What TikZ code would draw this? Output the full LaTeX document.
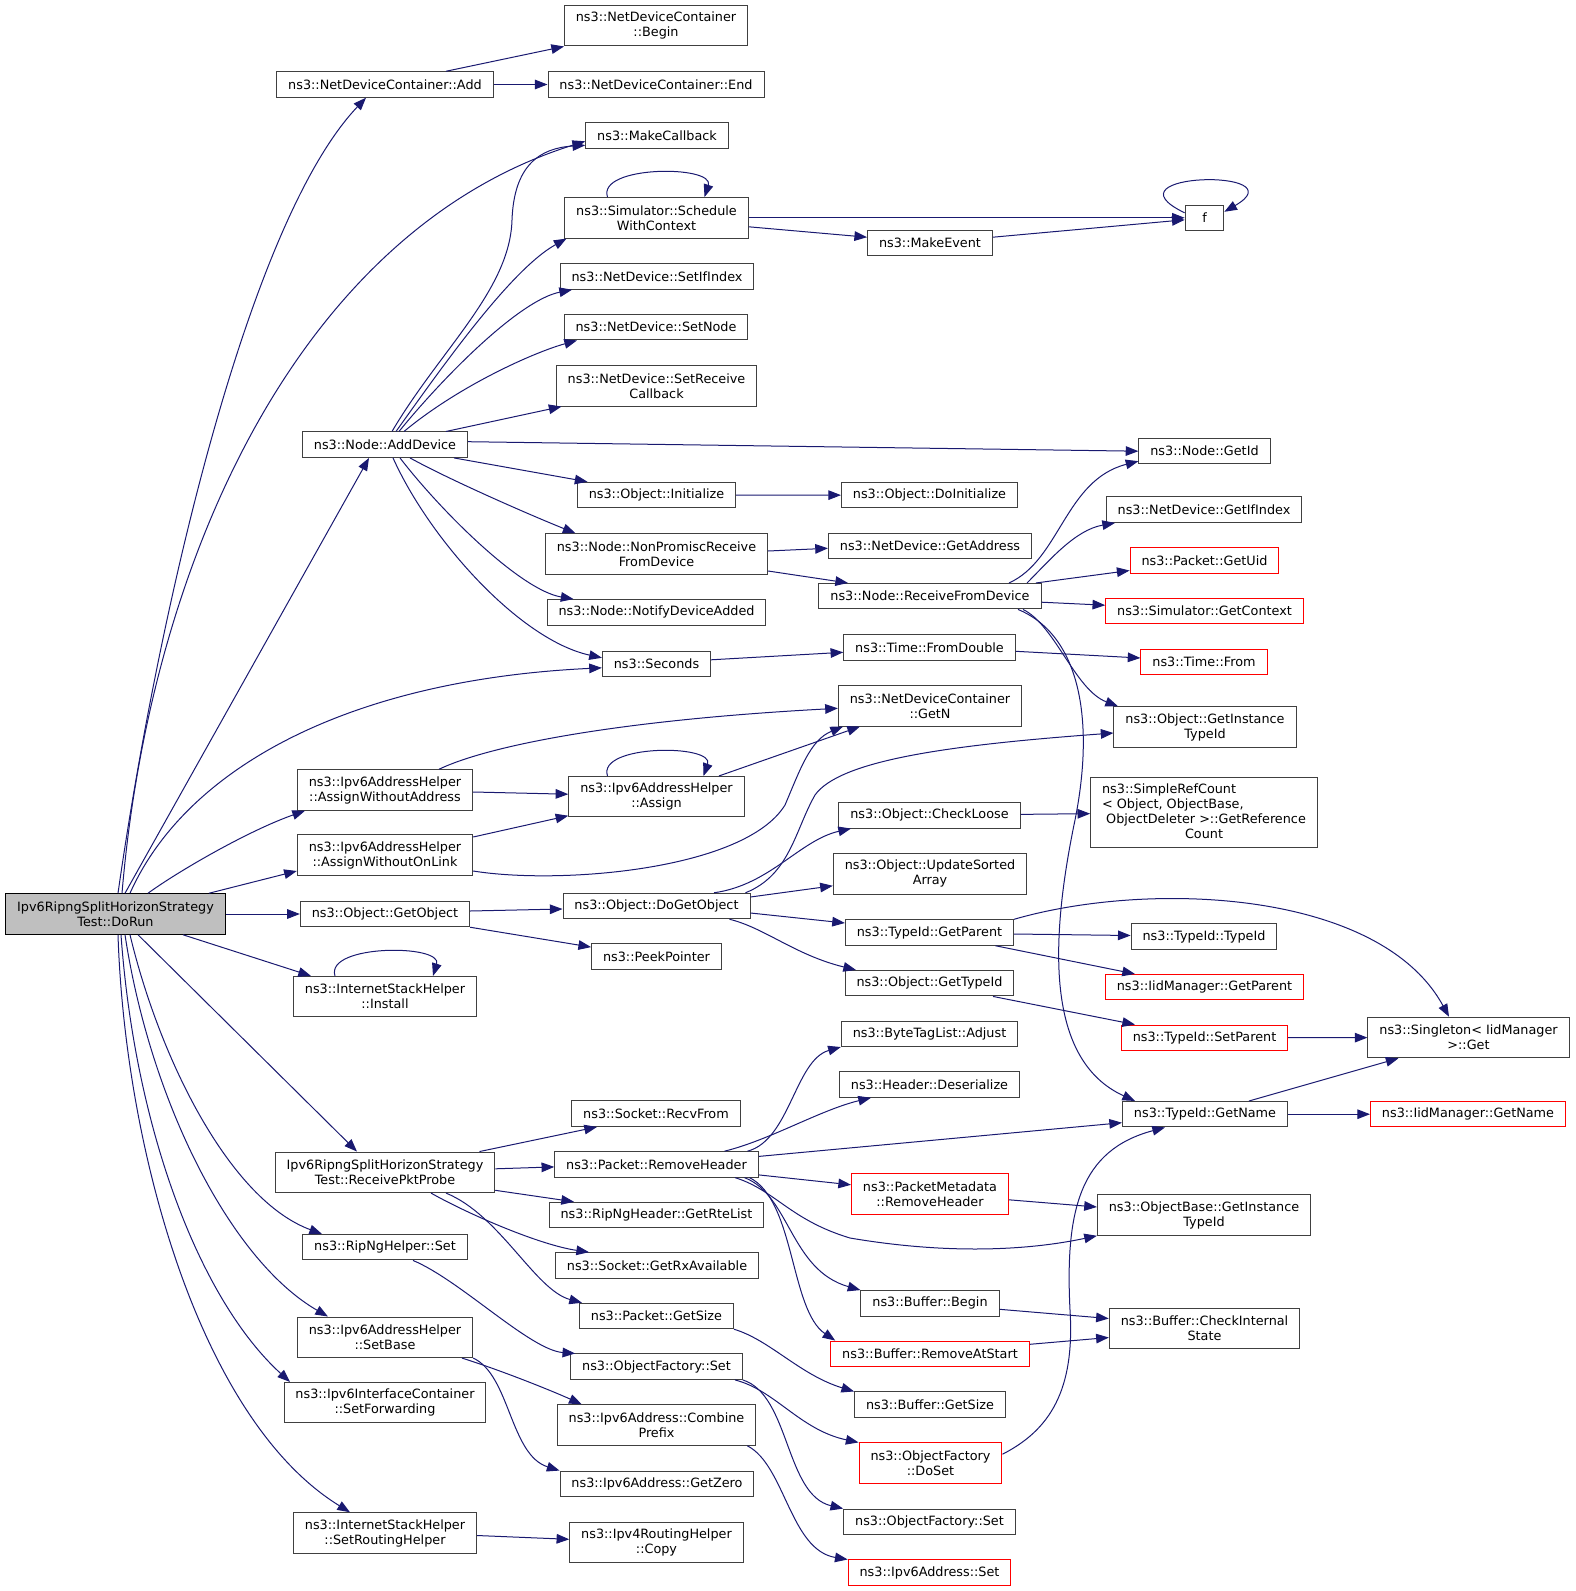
\documentclass[tikz,border=0pt]{standalone}
\usepackage{fontspec}
\newfontfamily\graphfont{DejaVu Sans}
\usetikzlibrary{arrows.meta}
\definecolor{edgeblue}{HTML}{191970}
\definecolor{rootgray}{HTML}{BFBFBF}
\definecolor{truncred}{HTML}{FF0000}

\begin{document}
\begin{tikzpicture}[x=0.75pt,y=-0.75pt,
  func/.style={draw=black!75,line width=0.75pt,font=\graphfont\fontsize{9.6}{11.25}\selectfont,inner xsep=8.6pt,inner ysep=2pt,minimum height=19.1pt,align=center},
  two/.style={minimum height=30.4pt},
  trunc/.style={func,draw=truncred},
  root/.style={func,two,draw=black,fill=rootgray},
  call/.style={draw=edgeblue,line width=0.75pt,-{Triangle[length=9.5pt,width=7.2pt]}}]
\useasboundingbox (0,0) rectangle (1575,1591);
\node[func,two] (ndcBegin) at (656,25.7) {ns3::NetDeviceContainer\\::Begin};
\node[func] (ndcAdd) at (385,84.5) {ns3::NetDeviceContainer::Add};
\node[func] (ndcEnd) at (656,84.5) {ns3::NetDeviceContainer::End};
\node[func] (mkCallback) at (657,135.3) {ns3::MakeCallback};
\node[func,two] (schedCtx) at (656.5,217.8) {ns3::Simulator::Schedule\\WithContext};
\node[func,minimum width=29pt] (fFun) at (1204.5,217.8) {f};
\node[func] (mkEvent) at (930,243.2) {ns3::MakeEvent};
\node[func] (setIfIndex) at (657,276.5) {ns3::NetDevice::SetIfIndex};
\node[func] (setNode) at (656,327.2) {ns3::NetDevice::SetNode};
\node[func,two] (setRecvCb) at (656.5,385.8) {ns3::NetDevice::SetReceive\\Callback};
\node[func] (addDevice) at (385,444.7) {ns3::Node::AddDevice};
\node[func] (getId) at (1204.5,451.2) {ns3::Node::GetId};
\node[func] (objInit) at (656.5,495) {ns3::Object::Initialize};
\node[func] (doInit) at (929.5,495.2) {ns3::Object::DoInitialize};
\node[func] (getIfIndex) at (1204,509.7) {ns3::NetDevice::GetIfIndex};
\node[func,two] (nonPromisc) at (656.5,554) {ns3::Node::NonPromiscReceive\\FromDevice};
\node[func] (getAddress) at (930,545.8) {ns3::NetDevice::GetAddress};
\node[trunc] (getUid) at (1204.5,560.5) {ns3::Packet::GetUid};
\node[func] (recvFromDev) at (930,596.2) {ns3::Node::ReceiveFromDevice};
\node[func] (notifyAdded) at (656.5,612.3) {ns3::Node::NotifyDeviceAdded};
\node[trunc] (getContext) at (1204.5,611.2) {ns3::Simulator::GetContext};
\node[func] (seconds) at (656.5,663.8) {ns3::Seconds};
\node[func] (fromDouble) at (929.5,647.3) {ns3::Time::FromDouble};
\node[trunc] (timeFrom) at (1204,662) {ns3::Time::From};
\node[func,two] (getN) at (930,705.8) {ns3::NetDeviceContainer\\::GetN};
\node[func,two] (objGetInst) at (1205,727) {ns3::Object::GetInstance\\TypeId};
\node[func,two] (assignWoAddr) at (385,790) {ns3::Ipv6AddressHelper\\::AssignWithoutAddress};
\node[func,two] (assign) at (656.5,796.7) {ns3::Ipv6AddressHelper\\::Assign};
\node[func,minimum height=52.5pt] (refCount) at (1204,812.5) {\begin{tabular}{@{}l@{}}ns3::SimpleRefCount\\< Object, ObjectBase,\\\ ObjectDeleter >::GetReference\\\multicolumn{1}{@{}c@{}}{Count}\end{tabular}};
\node[func] (checkLoose) at (929.5,815.3) {ns3::Object::CheckLoose};
\node[func,two] (assignWoLink) at (385,855) {ns3::Ipv6AddressHelper\\::AssignWithoutOnLink};
\node[func,two] (updSorted) at (930,873.8) {ns3::Object::UpdateSorted\\Array};
\node[root] (doRun) at (115.5,914) {Ipv6RipngSplitHorizonStrategy\\Test::DoRun};
\node[func] (getObject) at (385,914) {ns3::Object::GetObject};
\node[func] (doGetObject) at (656.5,906) {ns3::Object::DoGetObject};
\node[func] (tidGetParent) at (929.5,932.5) {ns3::TypeId::GetParent};
\node[func] (tidTypeId) at (1204,936.5) {ns3::TypeId::TypeId};
\node[func] (peekPtr) at (656.5,956.6) {ns3::PeekPointer};
\node[func,two] (install) at (385,996.7) {ns3::InternetStackHelper\\::Install};
\node[func] (getTypeId) at (929.5,983.2) {ns3::Object::GetTypeId};
\node[trunc] (iidGetParent) at (1204.5,987.2) {ns3::IidManager::GetParent};
\node[func] (adjust) at (929.5,1033.8) {ns3::ByteTagList::Adjust};
\node[func,two] (singleton) at (1468.5,1037.5) {ns3::Singleton< IidManager\\ >::Get};
\node[trunc] (setParent) at (1204.5,1037.8) {ns3::TypeId::SetParent};
\node[func] (deserialize) at (929.5,1084.5) {ns3::Header::Deserialize};
\node[func] (recvFrom) at (656,1113.7) {ns3::Socket::RecvFrom};
\node[func] (tidGetName) at (1205,1114.2) {ns3::TypeId::GetName};
\node[trunc] (iidGetName) at (1468,1114.2) {ns3::IidManager::GetName};
\node[func,two] (rcvProbe) at (385,1172.3) {Ipv6RipngSplitHorizonStrategy\\Test::ReceivePktProbe};
\node[func] (removeHdr) at (656.5,1164.4) {ns3::Packet::RemoveHeader};
\node[trunc,two] (metaRemove) at (930,1193.8) {ns3::PacketMetadata\\::RemoveHeader};
\node[func] (getRteList) at (656.5,1215) {ns3::RipNgHeader::GetRteList};
\node[func,two] (baseGetInst) at (1204,1215) {ns3::ObjectBase::GetInstance\\TypeId};
\node[func] (ripSet) at (385,1247.2) {ns3::RipNgHelper::Set};
\node[func] (getRxAvail) at (657,1265.4) {ns3::Socket::GetRxAvailable};
\node[func] (bufBegin) at (930,1303.3) {ns3::Buffer::Begin};
\node[func] (pktGetSize) at (656.5,1316) {ns3::Packet::GetSize};
\node[func,two] (checkInternal) at (1204.5,1328.5) {ns3::Buffer::CheckInternal\\State};
\node[func,two] (setBase) at (385,1337.3) {ns3::Ipv6AddressHelper\\::SetBase};
\node[trunc] (removeAtStart) at (930,1353.8) {ns3::Buffer::RemoveAtStart};
\node[func] (factSet) at (656.5,1366.7) {ns3::ObjectFactory::Set};
\node[func] (bufGetSize) at (930,1404.7) {ns3::Buffer::GetSize};
\node[func,two] (setFwd) at (385,1402.7) {ns3::Ipv6InterfaceContainer\\::SetForwarding};
\node[func,two] (combinePrefix) at (656.5,1425) {ns3::Ipv6Address::Combine\\Prefix};
\node[trunc,two] (doSet) at (930.5,1463.2) {ns3::ObjectFactory\\::DoSet};
\node[func] (getZero) at (657,1483.8) {ns3::Ipv6Address::GetZero};
\node[func] (factSetB) at (929.5,1521.8) {ns3::ObjectFactory::Set};
\node[func,two] (setRouting) at (385,1533) {ns3::InternetStackHelper\\::SetRoutingHelper};
\node[func,two] (copyHelper) at (656.5,1542.3) {ns3::Ipv4RoutingHelper\\::Copy};
\node[trunc] (addrSet) at (929.5,1572.7) {ns3::Ipv6Address::Set};

\draw[call] ([shift={(2.5,0)}]doRun.north) .. controls (160,600) and (250,220) .. ([shift={(-19,0)}]ndcAdd.south);
\draw[call] ([shift={(6.5,0)}]doRun.north) .. controls (150,560) and (300,230) .. ([shift={(0,6)}]mkCallback.west);
\draw[call] ([shift={(9.5,0)}]doRun.north) -- ([shift={(-16,0)}]addDevice.south);
\draw[call] ([shift={(14.5,0)}]doRun.north) .. controls (185,770) and (345,680) .. ([shift={(0,4)}]seconds.west);
\draw[call] ([shift={(32.5,0)}]doRun.north) .. controls (180,870) and (250,830) .. ([shift={(-80,0)}]assignWoAddr.south);
\draw[call] ([shift={(93.5,0)}]doRun.north) -- ([shift={(0,16)}]assignWoLink.west);
\draw[call] (doRun) -- (getObject);
\draw[call] ([shift={(67.5,0)}]doRun.south) -- ([shift={(-74,0)}]install.north);
\draw[call] ([shift={(22.5,0)}]doRun.south) -- ([shift={(-28,0)}]rcvProbe.north);
\draw[call] ([shift={(14.5,0)}]doRun.south) .. controls (160,1060) and (230,1200) .. ([shift={(-63,0)}]ripSet.north);
\draw[call] ([shift={(9.5,0)}]doRun.south) .. controls (150,1100) and (230,1260) .. ([shift={(-57,0)}]setBase.north);
\draw[call] ([shift={(5.5,0)}]doRun.south) .. controls (135,1130) and (200,1300) .. ([shift={(-95,0)}]setFwd.north);
\draw[call] ([shift={(2.5,0)}]doRun.south) .. controls (125,1150) and (200,1420) .. ([shift={(-35,0)}]setRouting.north);
\draw[call] ([shift={(61,0)}]ndcAdd.north) -- ([shift={(-92,0)}]ndcBegin.south);
\draw[call] (ndcAdd) -- (ndcEnd);
\draw[call] ([shift={(7,0)}]addDevice.north) .. controls (440,350) and (510,290) .. (512,220) .. controls (514,165) and (540,148) .. ([shift={(0,10)}]mkCallback.west);
\draw[call] ([shift={(11,0)}]addDevice.north) .. controls (440,370) and (510,270) .. ([shift={(-90,0)}]schedCtx.south);
\draw[call] ([shift={(14,0)}]addDevice.north) .. controls (445,375) and (520,300) .. ([shift={(-85,0)}]setIfIndex.south);
\draw[call] ([shift={(19,0)}]addDevice.north) .. controls (460,385) and (535,352) .. ([shift={(-79,0)}]setNode.south);
\draw[call] ([shift={(61,0)}]addDevice.north) -- ([shift={(-95,0)}]setRecvCb.south);
\draw[call] ([shift={(0,-3)}]addDevice.east) -- (getId.west);
\draw[call] ([shift={(69,0)}]addDevice.south) -- ([shift={(-69,0)}]objInit.north);
\draw[call] ([shift={(25,0)}]addDevice.south) .. controls (450,480) and (530,515) .. ([shift={(-81,0)}]nonPromisc.north);
\draw[call] ([shift={(15,0)}]addDevice.south) .. controls (440,510) and (520,590) .. ([shift={(-83,0)}]notifyAdded.north);
\draw[call] ([shift={(8,0)}]addDevice.south) .. controls (430,540) and (520,640) .. ([shift={(0,-6)}]seconds.west);
\draw[call] ([shift={(-49,0)}]schedCtx.north) .. controls (597,165) and (715,165) .. ([shift={(48,0)}]schedCtx.north);
\draw[call] (schedCtx) -- (fFun);
\draw[call] ([shift={(0,9)}]schedCtx.east) -- ([shift={(0,-6)}]mkEvent.west);
\draw[call] ([shift={(0,-6)}]mkEvent.east) -- ([shift={(0,2)}]fFun.west);
\draw[call] ([shift={(0,-5)}]fFun.west) .. controls (1100,172) and (1300,168) .. ([shift={(0,-6)}]fFun.east);
\draw[call] (objInit) -- (doInit);
\draw[call] ([shift={(0,-3)}]nonPromisc.east) -- ([shift={(0,2.5)}]getAddress.west);
\draw[call] ([shift={(0,17)}]nonPromisc.east) -- ([shift={(-82,0)}]recvFromDev.north);
\draw[call] ([shift={(79,0)}]recvFromDev.north) .. controls (1060,560) and (1065,480) .. ([shift={(0,10)}]getId.west);
\draw[call] ([shift={(97,0)}]recvFromDev.north) .. controls (1050,560) and (1075,530) .. ([shift={(-89,0)}]getIfIndex.south);
\draw[call] ([shift={(106,0)}]recvFromDev.north) -- ([shift={(0,10)}]getUid.west);
\draw[call] ([shift={(0,6)}]recvFromDev.east) -- ([shift={(0,-6)}]getContext.west);
\draw[call] ([shift={(93,0)}]recvFromDev.south) .. controls (1055,625) and (1075,690) .. ([shift={(-87,0)}]objGetInst.north);
\draw[call] ([shift={(88,0)}]recvFromDev.south) .. controls (1080,635) and (1095,720) .. (1075,820) .. controls (1050,940) and (1045,1060) .. ([shift={(-70,0)}]tidGetName.north);
\draw[call] ([shift={(0,-4)}]seconds.east) -- ([shift={(0,5)}]fromDouble.west);
\draw[call] ([shift={(0,4)}]fromDouble.east) -- ([shift={(0,-4)}]timeFrom.west);
\draw[call] ([shift={(54,0)}]assignWoAddr.north) .. controls (490,745) and (620,720) .. ([shift={(0,2.5)}]getN.west);
\draw[call] ([shift={(0,2)}]assignWoAddr.east) -- ([shift={(0,-2.5)}]assign.west);
\draw[call] ([shift={(-49,0)}]assign.north) .. controls (597,744) and (715,744) .. ([shift={(47,0)}]assign.north);
\draw[call] ([shift={(62.5,0)}]assign.north) -- ([shift={(-70,0)}]getN.south);
\draw[call] ([shift={(0,-18)}]assignWoLink.east) -- ([shift={(0,19)}]assign.west);
\draw[call] ([shift={(0,16)}]assignWoLink.east) .. controls (560,885) and (745,870) .. (785,805) .. controls (800,770) and (810,740) .. ([shift={(-87,0)}]getN.south);
\draw[call] ([shift={(0,-3)}]getObject.east) -- ([shift={(0,3)}]doGetObject.west);
\draw[call] (getObject.south east) -- ([shift={(0,-9.5)}]peekPtr.west);
\draw[call] ([shift={(-5,0)}]doGetObject.north east) .. controls (790,875) and (795,830) .. (815,795) .. controls (840,760) and (950,745) .. ([shift={(0,6)}]objGetInst.west);
\draw[call] ([shift={(57.5,0)}]doGetObject.north) .. controls (770,885) and (800,840) .. ([shift={(-78.5,0)}]checkLoose.south);
\draw[call] ([shift={(0,-9)}]doGetObject.east) -- ([shift={(0,12)}]updSorted.west);
\draw[call] ([shift={(0,7)}]doGetObject.east) -- ([shift={(0,-9.5)}]tidGetParent.west);
\draw[call] ([shift={(73,0)}]doGetObject.south) .. controls (765,928) and (795,955) .. ([shift={(-73.5,0)}]getTypeId.north);
\draw[call] (checkLoose) -- (refCount);
\draw[call] ([shift={(0,1.5)}]tidGetParent.east) -- ([shift={(0,-1)}]tidTypeId.west);
\draw[call] ([shift={(66,0)}]tidGetParent.south) -- ([shift={(-69.5,0)}]iidGetParent.north);
\draw[call] (tidGetParent.north east) .. controls (1150,880) and (1380,890) .. ([shift={(-19.5,0)}]singleton.north);
\draw[call] ([shift={(63.5,0)}]getTypeId.south) -- ([shift={(-69.5,0)}]setParent.north);
\draw[call] (setParent) -- (singleton);
\draw[call] ([shift={(44,0)}]tidGetName.north) -- ([shift={(-70,0)}]singleton.south);
\draw[call] (tidGetName) -- (iidGetName);
\draw[call] ([shift={(94.5,0)}]rcvProbe.north) -- ([shift={(-59,0)}]recvFrom.south);
\draw[call] ([shift={(0,-3.5)}]rcvProbe.east) -- ([shift={(0,2.5)}]removeHdr.west);
\draw[call] ([shift={(0,18)}]rcvProbe.east) -- ([shift={(-82.5,0)}]getRteList.north);
\draw[call] ([shift={(46,0)}]rcvProbe.south) .. controls (470,1215) and (540,1245) .. ([shift={(-68,0)}]getRxAvail.north);
\draw[call] ([shift={(61,0)}]rcvProbe.south) .. controls (500,1215) and (535,1290) .. ([shift={(3,0)}]pktGetSize.north west);
\draw[call] ([shift={(91,0)}]removeHdr.north) .. controls (790,1140) and (795,1060) .. (adjust.south west);
\draw[call] ([shift={(68,0)}]removeHdr.north) .. controls (770,1140) and (820,1110) .. ([shift={(-58.5,0)}]deserialize.south);
\draw[call] ([shift={(0,-8)}]removeHdr.east) -- ([shift={(0,8.5)}]tidGetName.west);
\draw[call] ([shift={(0,10.5)}]removeHdr.east) -- ([shift={(0,-9)}]metaRemove.west);
\draw[call] ([shift={(78.5,0)}]removeHdr.south) .. controls (775,1190) and (790,1220) .. (850,1238) .. controls (950,1255) and (1030,1250) .. (baseGetInst.south west);
\draw[call] ([shift={(88,0)}]removeHdr.south) .. controls (790,1195) and (790,1270) .. (bufBegin.north west);
\draw[call] ([shift={(93,0)}]removeHdr.south) .. controls (795,1200) and (790,1310) .. ([shift={(5,0)}]removeAtStart.north west);
\draw[call] ([shift={(0,6)}]metaRemove.east) -- ([shift={(0,-8)}]baseGetInst.west);
\draw[call] ([shift={(0,6)}]bufBegin.east) -- ([shift={(0,-10)}]checkInternal.west);
\draw[call] ([shift={(0,-9.5)}]removeAtStart.east) -- ([shift={(0,9)}]checkInternal.west);
\draw[call] (pktGetSize.south east) .. controls (770,1340) and (800,1375) .. (bufGetSize.north west);
\draw[call] ([shift={(28,0)}]ripSet.south) .. controls (460,1280) and (530,1350) .. ([shift={(5,0)}]factSet.north west);
\draw[call] ([shift={(77,0)}]setBase.south) .. controls (500,1370) and (550,1390) .. ([shift={(25,0)}]combinePrefix.north west);
\draw[call] (setBase.south east) .. controls (510,1375) and (510,1455) .. (getZero.north west);
\draw[call] ([shift={(78.5,0)}]factSet.south) .. controls (775,1390) and (800,1430) .. (doSet.north west);
\draw[call] (factSet.south east) .. controls (790,1395) and (785,1495) .. (factSetB.north west);
\draw[call] ([shift={(0,-9)}]doSet.east) .. controls (1050,1430) and (1075,1390) .. (1070,1310) .. controls (1065,1210) and (1080,1150) .. ([shift={(-40,0)}]tidGetName.south);
\draw[call] ([shift={(-9,0)}]combinePrefix.south east) .. controls (785,1465) and (790,1550) .. (addrSet.north west);
\draw[call] ([shift={(0,2.5)}]setRouting.east) -- ([shift={(0,-3)}]copyHelper.west);
\draw[call] ([shift={(-50,0)}]install.north) .. controls (325,944) and (443,944) .. ([shift={(48,0)}]install.north);
\end{tikzpicture}
\end{document}
